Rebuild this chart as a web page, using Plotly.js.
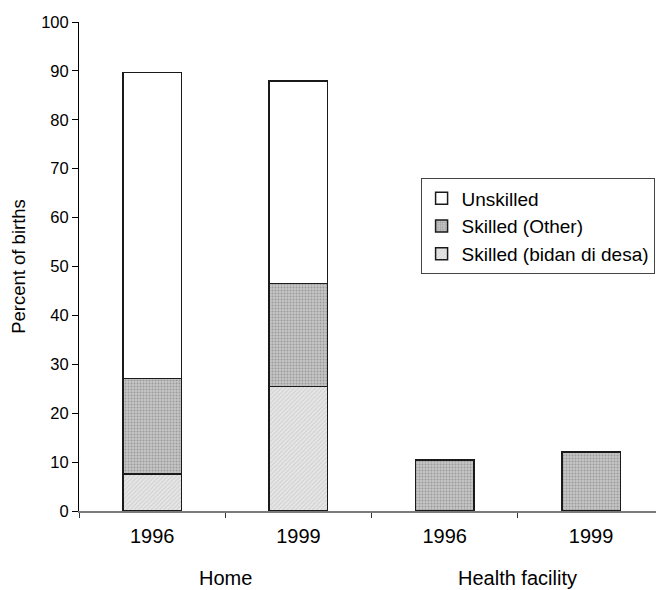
<!DOCTYPE html>
<html>
<head>
<meta charset="utf-8">
<script src="https://cdn.plot.ly/plotly-3.0.1.min.js"></script>
<style>html,body{margin:0;padding:0;background:#fff;overflow:hidden;}#chart{width:656px;height:590px;}</style>
</head>
<body>
<div id="chart"></div>
<script>
// Data
var years = ['1996', '1999', '1996', '1999'];
var groups = ['Home', 'Health facility'];
var groupOf = [0, 0, 1, 1];
var seriesNames = ['Skilled (bidan di desa)', 'Skilled (Other)', 'Unskilled'];
var bidan = [7.6, 25.5, null, null];
var other = [19.5, 21.0, 10.4, 12.1];
var unskilled = [62.6, 41.4, null, null];

var xs = years.map(function (_, i) { return i; });
var FONT = 'Arial, "Liberation Sans", sans-serif';

function barTrace(name, vals, pattern) {
  return {
    type: 'bar', name: name, x: xs, y: vals, width: 0.4,
    marker: {
      color: pattern.bg,
      line: { color: '#1a1a1a', width: 1.5 },
      pattern: pattern.shape ? { shape: pattern.shape, fgcolor: pattern.fg, bgcolor: pattern.bg, size: pattern.size, solidity: pattern.solidity, fillmode: 'replace' } : undefined
    },
    hoverinfo: 'skip'
  };
}

var traces = [
  barTrace(seriesNames[0], bidan, { shape: '/', fg: '#cdcdcd', bg: '#e6e6e6', size: 3, solidity: 0.3 }),
  barTrace(seriesNames[1], other, { shape: '.', fg: '#9a9a9a', bg: '#c6c6c6', size: 3, solidity: 0.35 }),
  barTrace(seriesNames[2], unskilled, { bg: '#ffffff' })
];

// group label annotations, centred under each pair of bars
var annotations = groups.map(function (g, gi) {
  var idx = xs.filter(function (i) { return groupOf[i] === gi; });
  var cx = idx.reduce(function (a, b) { return a + b; }, 0) / idx.length;
  return {
    text: g, x: cx, xref: 'x', y: -0.138, yref: 'paper',
    xanchor: 'center', yanchor: 'middle', showarrow: false,
    font: { family: FONT, size: 20, color: '#000' }
  };
});

var layout = {
  width: 656, height: 590,
  margin: { l: 79, r: 0, t: 22, b: 79, pad: 0 },
  paper_bgcolor: '#fff', plot_bgcolor: '#fff',
  barmode: 'stack',
  showlegend: true,
  legend: {
    x: 0.592, y: 0.680, xanchor: 'left', yanchor: 'top',
    xref: 'paper', yref: 'paper',
    traceorder: 'reversed',
    bordercolor: '#444', borderwidth: 1, bgcolor: '#fff',
    font: { family: FONT, size: 19, color: '#000' }
  },
  xaxis: {
    type: 'linear', range: [-0.5, 3.444], fixedrange: true,
    tickmode: 'array', tickvals: xs, ticktext: years,
    ticks: '', showgrid: false, zeroline: false,
    showline: true, linecolor: '#7a7a7a', linewidth: 1.5,
    tickfont: { family: FONT, size: 20, color: '#000' },
    ticklabelstandoff: 6,
    minor: { tick0: 0.5, dtick: 1, ticks: 'outside', ticklen: 5, tickcolor: '#333', tickwidth: 1, showgrid: false }
  },
  yaxis: {
    range: [0, 100], dtick: 10, tick0: 0, fixedrange: true,
    ticks: 'outside', ticklen: 6, tickcolor: '#000', tickwidth: 1,
    showline: true, linecolor: '#000', linewidth: 1,
    showgrid: false, zeroline: false,
    tickfont: { family: FONT, size: 16.5, color: '#000' },
    title: { text: 'Percent of births', font: { family: FONT, size: 18.5, color: '#000' }, standoff: 10 }
  },
  annotations: annotations
};

Plotly.newPlot('chart', traces, layout, { displayModeBar: false, staticPlot: true });
</script>
</body>
</html>
